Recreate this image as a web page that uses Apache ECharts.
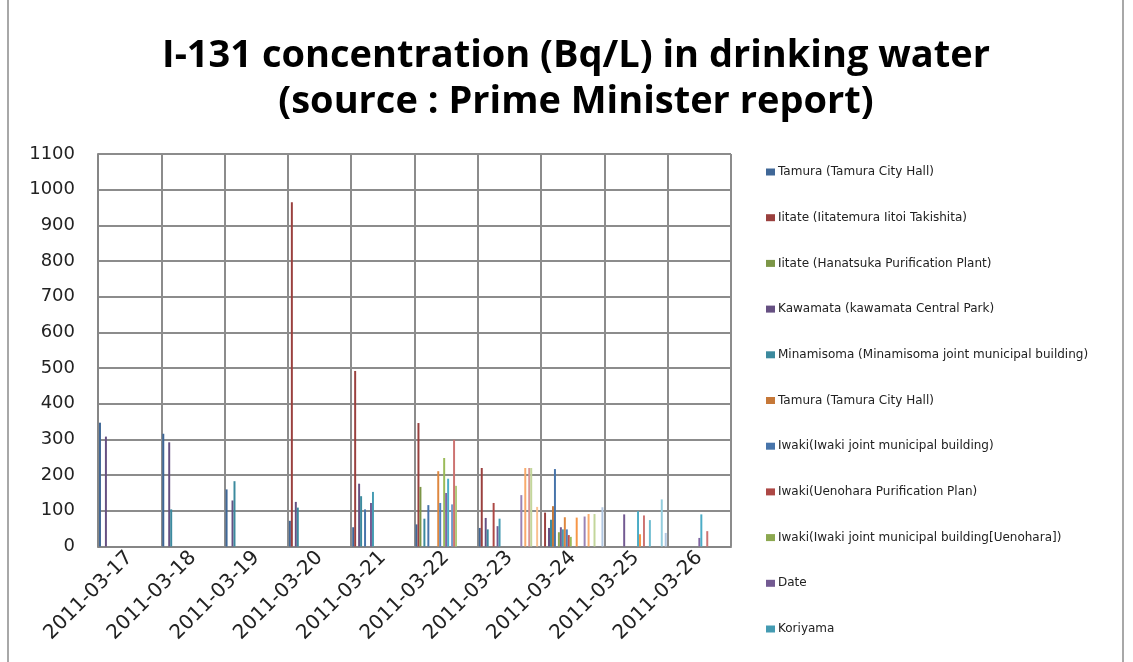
<!DOCTYPE html>
<html>
<head>
<meta charset="utf-8">
<script src="https://cdn.jsdelivr.net/npm/echarts@6/dist/echarts.min.js"></script>
<style>
  html, body { margin: 0; padding: 0; background: #ffffff; }
  #chart { width: 1133px; height: 662px; }
</style>
</head>
<body>
<div id="chart"></div>
<script>
// Sampling dates (category axis)
const dates = ['2011-03-17', '2011-03-18', '2011-03-19', '2011-03-20', '2011-03-21',
               '2011-03-22', '2011-03-23', '2011-03-24', '2011-03-25', '2011-03-26'];

// Measuring points (only the first eleven appear in the legend)
const siteNames = [
  'Tamura (Tamura City Hall)',
  'Iitate (Iitatemura Iitoi Takishita)',
  'Iitate (Hanatsuka Purification Plant)',
  'Kawamata (kawamata Central Park)',
  'Minamisoma (Minamisoma joint municipal building)',
  'Tamura (Tamura City Hall)\u200b',
  'Iwaki(Iwaki joint municipal building)',
  'Iwaki(Uenohara Purification Plan)',
  'Iwaki(Iwaki joint municipal building[Uenohara])',
  'Date',
  'Koriyama',
  'Point 12', 'Point 13', 'Point 14', 'Point 15', 'Point 16', 'Point 17',
  'Point 18', 'Point 19', 'Point 20', 'Point 21', 'Point 22', 'Point 23',
  'Point 24', 'Point 25', 'Point 26', 'Point 27', 'Point 28', 'Point 29',
  'Point 30', 'Point 31'
];

// I-131 (Bq/L), one value per date, null = no measurement
const s01 = [347, 316, 160, 72, 54, 62, 52, null, null, null];
const s02 = [null, null, null, 965, 492, 346, 220, 95, null, null];
const s03 = [null, null, null, null, null, 167, null, null, null, null];
const s04 = [308, 292, 129, 125, 176, null, 80, 52, null, null];
const s05 = [null, 104, 183, 109, 141, 78, 48, 75, null, null];
const s06 = [null, null, null, null, null, null, null, 113, null, null];
const s07 = [null, null, null, null, 104, 116, null, 217, null, null];
const s08 = [null, null, null, null, null, null, 122, null, null, null];
const s09 = [null, null, null, null, null, null, null, 40, null, null];
const s10 = [null, null, null, null, 122, null, 57, 54, 90, null];
const s11 = [null, null, null, null, 153, null, 78, 48, null, null];
const s12 = [null, null, null, null, null, 211, null, 82, null, null];
const s13 = [null, null, null, null, null, 122, null, 48, null, null];
const s14 = [null, null, null, null, null, null, null, 32, null, null];
const s15 = [null, null, null, null, null, 248, null, 27, null, null];
const s16 = [null, null, null, null, null, 150, null, null, null, 24];
const s17 = [null, null, null, null, null, 190, null, null, 99, 90];
const s18 = [null, null, null, null, null, null, null, 81, 34, null];
const s19 = [null, null, null, null, null, 118, null, null, null, null];
const s20 = [null, null, null, null, null, 299, null, null, 87, 43];
const s21 = [null, null, null, null, null, 170, null, null, null, null];
const s22 = [null, null, null, null, null, null, 144, 84, null, null];
const s23 = [null, null, null, null, null, null, null, null, 74, null];
const s24 = [null, null, null, null, null, null, 220, 91, null, null];
const s25 = [null, null, null, null, null, null, null, null, null, null];
const s26 = [null, null, null, null, null, null, 220, null, null, null];
const s27 = [null, null, null, null, null, null, 220, 91, null, null];
const s28 = [null, null, null, null, null, null, null, null, null, null];
const s29 = [null, null, null, null, null, null, null, null, 132, null];
const s30 = [null, null, null, null, null, null, 111, null, null, null];
const s31 = [null, null, null, null, null, null, null, 110, 38, null];

const seriesValues = [s01, s02, s03, s04, s05, s06, s07, s08, s09, s10, s11, s12, s13, s14, s15, s16,
                      s17, s18, s19, s20, s21, s22, s23, s24, s25, s26, s27, s28, s29, s30, s31];

// Office-style palette: six accents, each cycle a shade lighter
const accents = ['#4F81BD', '#C0504D', '#9BBB59', '#8064A2', '#4BACC6', '#F79646'];
const cycleAdjust = [-0.2, -0.1, 0, 0.2, 0.4, 0.55];
function adjust(hex, amt) {
  const c = [1, 3, 5].map(i => parseInt(hex.substr(i, 2), 16));
  const out = c.map(v => amt < 0 ? v * (1 + amt) : v + (255 - v) * amt);
  return '#' + out.map(v => Math.round(v).toString(16).padStart(2, '0')).join('');
}
function seriesColor(i) {
  return adjust(accents[i % 6], cycleAdjust[Math.floor(i / 6)]);
}

const chart = echarts.init(document.getElementById('chart'), null, { renderer: 'canvas' });

const series = seriesValues.map((vals, i) => ({
  name: siteNames[i],
  type: 'bar',
  data: vals,
  barGap: '0%',
  barCategoryGap: (100 / 32) + '%',
  itemStyle: { color: seriesColor(i) },
  emphasis: { disabled: true },
  animation: false
}));

chart.setOption({
  backgroundColor: '#ffffff',
  animation: false,
  // chart-area frame (left and right edges)
  graphic: [{
    type: 'rect',
    shape: { x: 8, y: -3, width: 1115, height: 668 },
    style: { fill: 'none', stroke: '#8c8c8c', lineWidth: 1.5 },
    silent: true
  }],
  title: {
    text: 'I-131 concentration (Bq/L) in drinking water\n(source : Prime Minister report)',
    left: 571,
    top: 28,
    textAlign: 'center',
    textStyle: {
      fontFamily: 'Open Sans',
      fontWeight: 'bold',
      fontSize: 38,
      lineHeight: 46,
      color: '#000000'
    }
  },
  legend: {
    orient: 'vertical',
    left: 761,
    top: 161,
    itemWidth: 9,
    itemHeight: 7,
    itemGap: 33.7,
    icon: 'rect',
    selectedMode: false,
    data: siteNames.slice(0, 11),
    formatter: name => name.replace('\u200b', ''),
    textStyle: { fontFamily: 'DejaVu Sans', fontSize: 12, color: '#222222', padding: [0, 0, 0, -2] }
  },
  grid: { left: 98, right: 402, top: 154, bottom: 115.5, containLabel: false },
  xAxis: {
    type: 'category',
    data: dates,
    axisLine: { lineStyle: { color: '#868686', width: 2 } },
    axisTick: { show: false },
    splitLine: { show: true, lineStyle: { color: '#8c8c8c', width: 2 } },
    axisLabel: {
      rotate: 45,
      margin: 8,
      fontFamily: 'DejaVu Sans',
      fontSize: 20,
      color: '#222222'
    }
  },
  yAxis: {
    type: 'value',
    min: 0,
    max: 1100,
    interval: 100,
    axisLine: { show: true, lineStyle: { color: '#868686', width: 2 } },
    axisTick: { show: false },
    splitLine: { show: true, lineStyle: { color: '#8c8c8c', width: 2 } },
    axisLabel: {
      margin: 23,
      formatter: v => String(v),
      fontFamily: 'DejaVu Sans',
      fontSize: 18,
      color: '#222222'
    }
  },
  series: series
});
</script>
</body>
</html>
